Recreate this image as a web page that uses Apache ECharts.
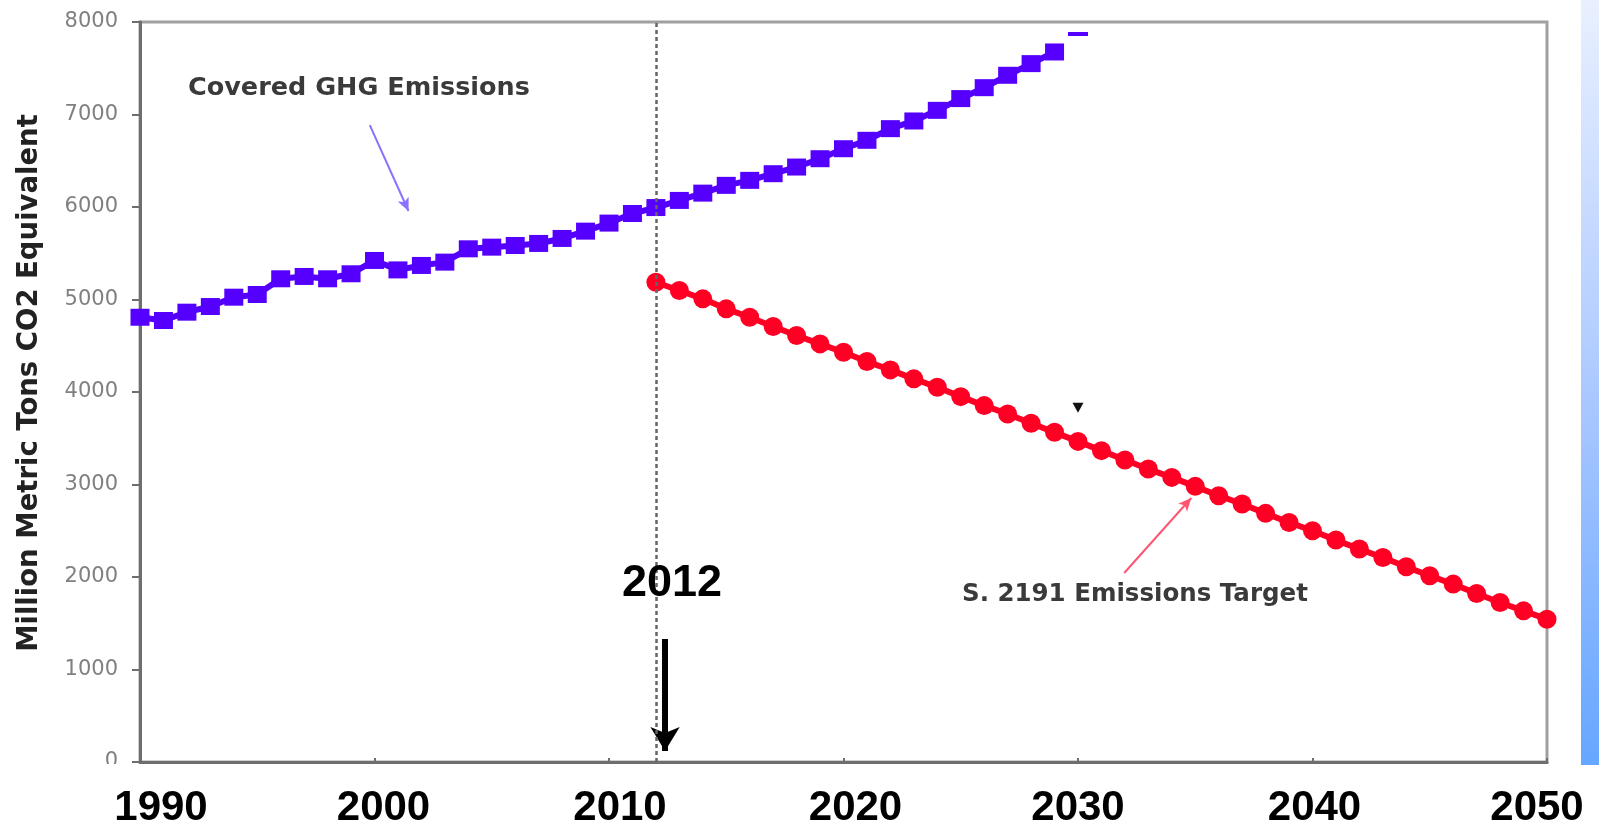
<!DOCTYPE html>
<html>
<head>
<meta charset="utf-8">
<title>Covered GHG Emissions vs. S. 2191 Emissions Target</title>
<script src="https://cdn.jsdelivr.net/npm/echarts@6/dist/echarts.min.js"></script>
<style>
  html, body { margin: 0; padding: 0; background: #ffffff; }
  #chart { width: 1599px; height: 821px; }
</style>
</head>
<body>
<div id="chart"></div>
<script>
// ---- data ----
const coveredYears = [1990, 1991, 1992, 1993, 1994, 1995, 1996, 1997, 1998, 1999,
  2000, 2001, 2002, 2003, 2004, 2005, 2006, 2007, 2008, 2009,
  2010, 2011, 2012, 2013, 2014, 2015, 2016, 2017, 2018, 2019,
  2020, 2021, 2022, 2023, 2024, 2025, 2026, 2027, 2028, 2029];
const coveredEmissions = [4808, 4773, 4863, 4924, 5025, 5054, 5224, 5249, 5224, 5278,
  5422, 5320, 5368, 5404, 5548, 5566, 5584, 5606, 5660, 5739,
  5826, 5930, 5994, 6071, 6150, 6234, 6288, 6360, 6432, 6522,
  6630, 6721, 6847, 6930, 7045, 7172, 7290, 7424, 7550, 7676];

const targetYears = [2012, 2013, 2014, 2015, 2016, 2017, 2018, 2019, 2020, 2021,
  2022, 2023, 2024, 2025, 2026, 2027, 2028, 2029, 2030, 2031,
  2032, 2033, 2034, 2035, 2036, 2037, 2038, 2039, 2040, 2041,
  2042, 2043, 2044, 2045, 2046, 2047, 2048, 2049, 2050];
const targetEmissions = [5187, 5097, 5007, 4899, 4808, 4708, 4610, 4520, 4430, 4329,
  4239, 4142, 4051, 3950, 3853, 3763, 3662, 3564, 3466, 3366,
  3265, 3167, 3077, 2980, 2879, 2789, 2688, 2590, 2500, 2399,
  2302, 2211, 2110, 2013, 1923, 1822, 1724, 1634, 1544];

const xTicks = [1990, 2000, 2010, 2020, 2030, 2040, 2050];
const yTicks = [0, 1000, 2000, 3000, 4000, 5000, 6000, 7000, 8000];
const startYear = 2012;

const coveredLabel = 'Covered GHG Emissions';
const targetLabel = 'S. 2191 Emissions Target';
const yAxisTitle = 'Million Metric Tons CO2 Equivalent';

// stray marks sitting near 2030
const coveredStub = [2030, 7870];
const targetTick = [2030, 3830];

// ---- styling ----
const BLUE = '#5500ff';
const RED = '#ff0024';
const GRAY_TEXT = '#808080';
const AXIS_GRAY = '#6e6e6e';

// horizontal nudge (px) of each big year label under the axis
const yearLabelShift = {1990: 21, 2000: 9, 2010: 11, 2020: 12, 2030: 0, 2040: 2, 2050: -10};
const yearRich = {};
xTicks.forEach(function (y) {
  const s = yearLabelShift[y] || 0;
  yearRich['y' + y] = {
    fontFamily: 'Liberation Sans', fontWeight: 'bold', fontSize: 42, color: '#000',
    padding: [0, s < 0 ? -2 * s : 0, 0, s > 0 ? 2 * s : 0]
  };
});

// annotation arrows, in data coordinates [year, value]
const coveredArrow = [[1999.8, 6886], [2001.45, 5957]];
const targetArrow = [[2031.97, 2043], [2034.83, 2854]];
const startArrow = [[2012.39, 1330], [2012.39, 119]];

function arrow(seg, color, width, head) {
  return [
    {coord: seg[0], symbol: 'none', lineStyle: {color: color, width: width, type: 'solid'}},
    {coord: seg[1], symbol: 'arrow', symbolSize: head, itemStyle: {color: color}}
  ];
}

const chart = echarts.init(document.getElementById('chart'), null, {renderer: 'canvas'});

chart.setOption({
  animation: false,
  backgroundColor: '#ffffff',
  grid: {
    left: 140, right: 52, top: 22, bottom: 59,
    containLabel: false,
    outerBoundsMode: 'none',
    show: true, borderColor: '#a0a0a0', borderWidth: 3, backgroundColor: '#ffffff'
  },
  xAxis: {
    type: 'value',
    min: xTicks[0], max: xTicks[xTicks.length - 1], interval: 10,
    axisLine: {show: true, onZero: false, lineStyle: {color: AXIS_GRAY, width: 3}},
    axisTick: {show: true, inside: true, length: 4, lineStyle: {color: AXIS_GRAY, width: 2}},
    splitLine: {show: false},
    axisLabel: {
      margin: 25,
      showMinLabel: true, showMaxLabel: true,
      formatter: function (v) { return '{y' + v + '|' + v + '}'; },
      rich: yearRich
    }
  },
  yAxis: {
    type: 'value',
    min: yTicks[0], max: yTicks[yTicks.length - 1], interval: 1000,
    name: yAxisTitle,
    nameLocation: 'middle',
    nameRotate: 90,
    nameGap: 96,
    nameTextStyle: {
      fontFamily: 'DejaVu Sans', fontWeight: 'bold', fontSize: 27.5, color: '#222222',
      padding: [0, 0, 0, 18]
    },
    axisLine: {show: true, lineStyle: {color: AXIS_GRAY, width: 3}},
    axisTick: {show: true, inside: false, length: 8, lineStyle: {color: AXIS_GRAY, width: 2}},
    splitLine: {show: false},
    axisLabel: {
      margin: 22,
      fontFamily: 'DejaVu Sans', fontSize: 21, color: GRAY_TEXT,
      formatter: function (v) { return String(v); }
    }
  },
  series: [
    {
      name: coveredLabel,
      type: 'line',
      data: coveredYears.map(function (y, i) { return [y, coveredEmissions[i]]; }),
      symbol: 'rect',
      symbolSize: [19, 17],
      itemStyle: {color: BLUE},
      lineStyle: {color: BLUE, width: 6},
      z: 3,
      silent: true,
      markPoint: {
        silent: true,
        symbol: 'rect',
        symbolSize: [20, 4],
        label: {show: false},
        itemStyle: {color: BLUE},
        data: [{coord: coveredStub}]
      },
      markLine: {
        silent: true,
        animation: false,
        label: {show: false},
        data: [arrow(coveredArrow, '#8c70ff', 2, [9, 13])]
      }
    },
    {
      name: targetLabel,
      type: 'line',
      data: targetYears.map(function (y, i) { return [y, targetEmissions[i]]; }),
      symbol: 'circle',
      symbolSize: 19,
      itemStyle: {color: RED},
      lineStyle: {color: RED, width: 6},
      z: 3,
      silent: true,
      markPoint: {
        silent: true,
        symbol: 'triangle',
        symbolRotate: 180,
        symbolSize: [11, 10],
        label: {show: false},
        itemStyle: {color: '#111111'},
        data: [{coord: targetTick}]
      },
      markLine: {
        silent: true,
        animation: false,
        symbol: ['none', 'none'],
        label: {show: false},
        data: [
          arrow(targetArrow, '#ff5472', 2, [9, 13]),
          arrow(startArrow, '#000000', 6, [22, 24])
        ]
      }
    },
    {
      // dashed marker line at the start year of the target
      name: 'start',
      type: 'line',
      data: [],
      silent: true,
      z: 2,
      markLine: {
        silent: true,
        animation: false,
        symbol: ['none', 'none'],
        label: {show: false},
        lineStyle: {color: '#666666', width: 2.5, type: [4, 3]},
        data: [{xAxis: startYear}]
      }
    }
  ],
  graphic: [
    {
      type: 'rect', silent: true, z: 100,
      shape: {x: 92, y: 764, width: 46, height: 20},
      style: {fill: '#ffffff'}
    },
    {
      type: 'rect', silent: true, z: 100,
      shape: {x: 1581, y: 0, width: 18, height: 765},
      style: {
        fill: new echarts.graphic.LinearGradient(0, 0, 0, 1, [
          {offset: 0, color: '#e9f0ff'},
          {offset: 0.52, color: '#aac8ff'},
          {offset: 1, color: '#66a6ff'}
        ])
      }
    },
    {
      type: 'text', silent: true, z: 100, x: 188, y: 88,
      style: {
        text: coveredLabel, fill: '#3a3a3a',
        font: 'bold 25.5px "DejaVu Sans"', verticalAlign: 'middle', align: 'left'
      }
    },
    {
      type: 'text', silent: true, z: 100, x: 962, y: 595,
      style: {
        text: targetLabel, fill: '#3a3a3a',
        font: 'bold 24.5px "DejaVu Sans"', verticalAlign: 'middle', align: 'left'
      }
    },
    {
      type: 'text', silent: true, z: 100, x: 672, y: 584,
      style: {
        text: String(startYear), fill: '#000000',
        font: 'bold 45px "Liberation Sans"', verticalAlign: 'middle', align: 'center'
      }
    }
  ]
});
</script>
</body>
</html>
